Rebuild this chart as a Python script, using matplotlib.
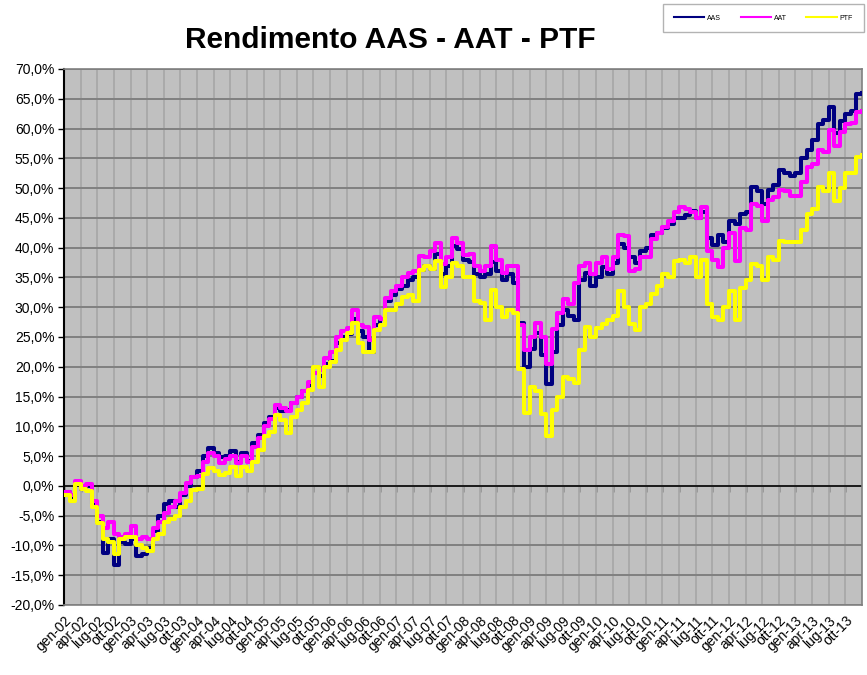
import numpy as np
import matplotlib
matplotlib.use('Agg')
import matplotlib.pyplot as plt

# valori mensili (gen-02 ... gen-14), in %
aas = [-1.0, -2.0, 0.5, -0.5, 0.0, -3.0, -6.0, -11.3, -9.0, -13.2, -9.5, -9.8,
       -9.0, -11.8, -11.5, -10.5, -7.5, -5.0, -3.0, -2.5, -3.5, -1.5, 0.0, 1.5,
       2.5, 5.0, 6.3, 5.5, 4.8, 5.0, 5.8, 4.0, 5.5, 4.2, 7.2, 8.5,
       10.5, 11.6, 13.0, 12.5, 12.7, 14.0, 15.0, 16.0, 17.0, 18.9, 18.5, 20.5,
       21.0, 24.0, 25.0, 25.5, 28.0, 26.0, 25.0, 22.5, 27.0, 28.0, 31.0, 32.0,
       33.0, 33.6, 34.5, 35.0, 36.3, 37.0, 36.5, 39.0, 35.6, 37.0, 40.3, 39.8,
       38.0, 37.6, 35.5, 35.1, 35.5, 37.6, 36.0, 34.5, 35.5, 34.0, 27.4, 20.0,
       23.0, 25.7, 22.0, 17.1, 22.5, 27.0, 29.6, 28.5, 27.9, 34.6, 35.8, 33.5,
       35.0, 36.7, 35.6, 37.5, 40.6, 40.0, 38.4, 37.5, 39.5, 40.0, 42.2, 42.5,
       43.3, 44.0, 45.0, 45.0, 45.5, 46.2, 45.0, 46.0, 41.7, 40.5, 42.2, 41.0,
       44.5, 44.0, 45.6, 46.0, 50.2, 49.5, 47.3, 49.7, 50.5, 53.0, 52.5, 52.0,
       52.5, 55.0, 56.4, 58.0, 60.8, 61.5, 63.6, 59.2, 61.3, 62.5, 63.0, 65.8,
       66.0]

aat = [-1.0, -1.5, 0.8, 0.0, 0.3, -2.5, -5.0, -7.0, -6.0, -8.0, -8.5, -8.0,
       -6.8, -9.0, -8.5, -9.0, -7.0, -6.0, -4.5, -3.5, -2.5, -1.2, 0.5, 1.5,
       1.7, 4.0, 5.5, 5.0, 3.8, 4.5, 5.0, 3.8, 5.0, 4.0, 6.5, 8.0,
       10.0, 11.3, 13.6, 13.0, 12.5, 14.0, 15.0, 16.0, 17.5, 19.0, 19.5, 21.5,
       22.5, 25.0, 26.0, 26.5, 29.5, 27.0, 26.6, 24.5, 28.4, 28.0, 31.5, 32.8,
       33.5, 35.0, 35.7, 36.0, 38.6, 38.5, 39.5, 40.7, 37.3, 38.5, 41.7, 40.8,
       38.7, 39.0, 37.0, 36.0, 37.0, 40.3, 38.0, 35.8, 37.0, 37.0, 27.0, 22.8,
       25.0, 27.4, 25.0, 20.5, 26.3, 29.0, 31.3, 30.5, 34.0, 37.0, 37.5, 35.6,
       37.5, 38.4, 36.5, 38.5, 42.2, 42.0, 36.0, 36.5, 38.5, 38.4, 41.5, 42.5,
       43.5, 44.5, 46.0, 46.8, 46.5, 46.0, 45.0, 46.8, 39.5, 38.0, 36.7, 40.0,
       42.5, 37.8, 43.3, 43.0, 47.3, 47.0, 44.5, 48.0, 48.5, 49.7, 49.5, 48.6,
       48.6, 51.0, 53.6, 54.0, 56.4, 56.0, 59.7, 57.0, 59.5, 60.8, 61.0, 62.8,
       63.0]

ptf = [-1.5, -2.5, 0.3, -0.5, -0.8, -3.5, -6.2, -9.0, -9.5, -11.5, -9.0, -8.5,
       -8.5, -10.0, -10.5, -11.0, -9.0, -8.0, -6.0, -5.5, -5.0, -3.5, -2.5, -0.7,
       -0.5, 2.0, 3.0, 2.5, 1.8, 2.2, 3.2, 1.6, 3.2, 2.5, 4.0, 6.0,
       8.3, 9.0, 11.9, 11.0, 8.8, 11.5, 12.7, 14.0, 16.1, 20.0, 16.6, 20.0,
       20.8, 22.9, 24.5, 25.6, 27.4, 24.0, 22.4, 22.4, 26.2, 27.0, 29.5, 29.5,
       30.5, 31.8, 32.0, 31.0, 36.3, 37.0, 36.5, 37.8, 33.4, 35.0, 37.5, 37.0,
       35.1, 35.0, 31.0, 30.7, 27.9, 32.9, 30.0, 28.4, 29.6, 29.0, 19.6, 12.2,
       16.6, 16.0, 12.0, 8.3, 12.8, 15.0, 18.3, 18.0, 17.2, 22.8, 26.7, 25.0,
       26.5, 27.2, 27.8, 28.5, 32.8, 30.0, 27.2, 26.1, 30.0, 30.5, 32.3, 33.5,
       35.6, 35.0, 37.8, 38.0, 37.5, 38.4, 35.0, 38.0, 30.6, 28.4, 27.8, 30.0,
       32.8, 27.8, 33.3, 34.5, 37.3, 37.0, 34.5, 38.4, 38.0, 41.2, 41.0, 41.0,
       41.0, 43.0, 45.6, 46.5, 50.2, 49.5, 52.5, 47.8, 50.0, 52.5, 52.5, 55.3,
       55.5]

mesi = ['gen', 'apr', 'lug', 'ott']
anni = ['02', '03', '04', '05', '06', '07', '08', '09', '10', '11', '12', '13']
etichette = [m + '-' + a for a in anni for m in mesi]

x = np.arange(len(aas))
xt = np.arange(0, 144, 3)

plt.rcParams['font.family'] = ['Liberation Sans', 'DejaVu Sans']

fig = plt.figure(figsize=(8.67, 6.75), dpi=100)
ax = fig.add_axes([64 / 867, 70 / 675, 798 / 867, 536 / 675])
ax.set_facecolor('#c0c0c0')

ax.plot(x, aas, color='#000080', lw=2.9, drawstyle='steps-post', label='AAS', zorder=3)
ax.plot(x, aat, color='#ff00ff', lw=2.9, drawstyle='steps-post', label='AAT', zorder=4)
ax.plot(x, ptf, color='#ffff00', lw=2.9, drawstyle='steps-post', label='PTF', zorder=5)

ax.set_xlim(0, 144)
ax.set_ylim(-20, 70)
ax.set_yticks(np.arange(-20, 71, 5))
ax.set_yticklabels([('%.1f%%' % v).replace('.', ',') for v in np.arange(-20, 71, 5)], fontsize=10)
ax.set_xticks(xt)
ax.set_xticklabels(etichette, rotation=45, ha='right', rotation_mode='anchor', fontsize=10)
ax.tick_params(axis='x', length=0, pad=6)
ax.tick_params(axis='y', length=4, width=1, color='black', pad=3)

# griglia
ax.set_axisbelow(True)
ax.grid(axis='y', color='#808080', lw=1.4)
ax.grid(axis='x', color='#aaaaaa', lw=1.4)
ax.axhline(0, color='black', lw=1.1, zorder=2)

# asse x che incrocia a 0
sec = ax.secondary_xaxis(20 / 90)
sec.set_xticks(xt)
sec.tick_params(axis='x', length=4, width=1, color='black', labelbottom=False, direction='out')
sec.spines['bottom'].set_visible(False)

for s in ['top', 'right', 'bottom']:
    ax.spines[s].set_color('#808080')
    ax.spines[s].set_linewidth(1.2)
ax.spines['left'].set_color('black')
ax.spines['left'].set_linewidth(1.5)

fig.text(0.45, 0.94, 'Rendimento AAS - AAT - PTF', ha='center', va='center',
         fontsize=21.5, fontweight='bold')

leg = fig.legend(loc='upper right', bbox_to_anchor=(1.0, 0.999), ncol=3, fontsize=5,
                 handlelength=4.4, columnspacing=2.8, fancybox=False, borderpad=1.5,
                 handletextpad=0.4)
leg.get_frame().set_edgecolor('#a0a0a0')
leg.get_frame().set_linewidth(1)
for l in leg.get_lines():
    l.set_linewidth(1.5)

fig.savefig('out.png', dpi=100)
